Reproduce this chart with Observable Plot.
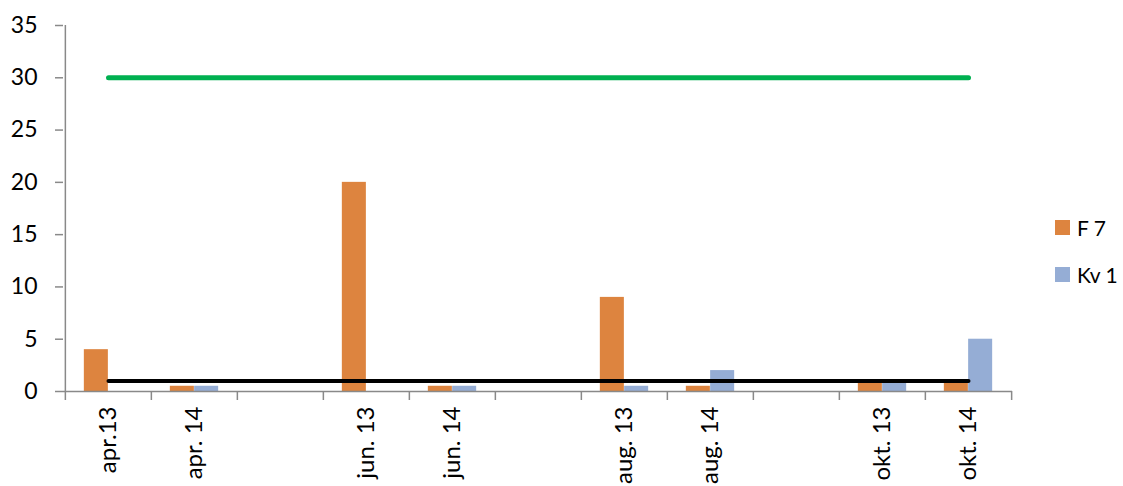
<!DOCTYPE html>
<html>
<head>
<meta charset="utf-8">
<script src="https://cdn.jsdelivr.net/npm/d3@7"></script>
<script src="https://cdn.jsdelivr.net/npm/@observablehq/plot@0.6"></script>
<style>
  html, body { margin: 0; padding: 0; background: #fff; }
  #wrap { position: relative; width: 1123px; height: 486px; font-family: Lato, sans-serif; }
  .sw { position: absolute; width: 15px; height: 15px; }
  .lt { position: absolute; font-size: 21px; line-height: 21px; color: #000; white-space: nowrap; }
</style>
</head>
<body>
<div id="wrap"></div>
<script>
const categories = ["apr.13", "apr. 14", "", "jun. 13", "jun. 14", " ", "aug. 13", "aug. 14", "  ", "okt. 13", "okt. 14"];
const seriesNames = ["F 7", "Kv 1"];
const f7 = [4, 0.5, null, 20, 0.5, null, 9, 0.5, null, 1, 1];
const kv1 = [0, 0.5, null, 0, 0.5, null, 0.5, 2, null, 1, 5];
const upperLimit = 30;
const lowerLimit = 1;
const yTicks = [0, 5, 10, 15, 20, 25, 30, 35];
const colors = ["#DD843F", "#95ADD5"];

const W = 1123, H = 486;
const mL = 63, mR = 111, mT = 25, mB = 95;
const bw = (W - mL - mR) / categories.length;
const barW = 24.3;
const gray = "#898989";

const rows = [];
categories.forEach((c, i) => {
  if (f7[i] != null) rows.push({cat: c, series: seriesNames[0], value: f7[i]});
  if (kv1[i] != null) rows.push({cat: c, series: seriesNames[1], value: kv1[i]});
});
const first = categories[0], last = categories[categories.length - 1];
const upper = [{cat: first, v: upperLimit}, {cat: last, v: upperLimit}];
const lower = [{cat: first, v: lowerLimit}, {cat: last, v: lowerLimit}];

const chart = Plot.plot({
  width: W, height: H,
  marginLeft: mL, marginRight: mR, marginTop: mT, marginBottom: mB,
  style: {fontFamily: "Lato, sans-serif", fontSize: "23px", color: "#000", background: "transparent"},
  x: {domain: categories, padding: 0, axis: null, label: null},
  y: {domain: [0, 35], axis: null, label: null},
  color: {domain: seriesNames, range: colors},
  marks: [
    Plot.barY(rows.filter(d => d.series === seriesNames[0]), {x: "cat", y: "value", fill: "series", insetLeft: bw/2 - barW, insetRight: bw/2}),
    Plot.barY(rows.filter(d => d.series === seriesNames[1]), {x: "cat", y: "value", fill: "series", insetLeft: bw/2, insetRight: bw/2 - barW}),
    Plot.ruleY([0], {stroke: gray, strokeWidth: 1.5}),
    Plot.ruleX([first], {x: d => d, y1: 0, y2: 35, dx: -bw/2, stroke: gray, strokeWidth: 1.5}),
    Plot.ruleX(categories, {x: d => d, y1: 0, y2: 0, insetBottom: -9, dx: -bw/2, stroke: gray, strokeWidth: 1.5}),
    Plot.ruleX([last], {x: d => d, y1: 0, y2: 0, insetBottom: -9, dx: bw/2, stroke: gray, strokeWidth: 1.5}),
    Plot.axisY({ticks: yTicks, tickSize: 8, tickPadding: 18, stroke: gray, fill: "#000", strokeWidth: 1.5, label: null}),
    Plot.axisX({tickSize: 0, tickPadding: 15, tickRotate: -90, fill: "#000", fontSize: 24, label: null}),
    Plot.lineY(upper, {x: "cat", y: "v", stroke: "#00B050", strokeWidth: 5, strokeLinecap: "round"}),
    Plot.lineY(lower, {x: "cat", y: "v", stroke: "#000", strokeWidth: 4})
  ]
});
const wrap = document.getElementById("wrap");
wrap.prepend(chart);

const legendTop = [220, 267];
seriesNames.forEach((s, i) => {
  const sw = document.createElement("div");
  sw.className = "sw";
  sw.style.left = "1055px";
  sw.style.top = legendTop[i] + "px";
  sw.style.background = colors[i];
  wrap.appendChild(sw);
  const t = document.createElement("div");
  t.className = "lt";
  t.style.left = "1077px";
  t.style.top = (legendTop[i] - 3) + "px";
  t.textContent = s;
  wrap.appendChild(t);
});
</script>
</body>
</html>
